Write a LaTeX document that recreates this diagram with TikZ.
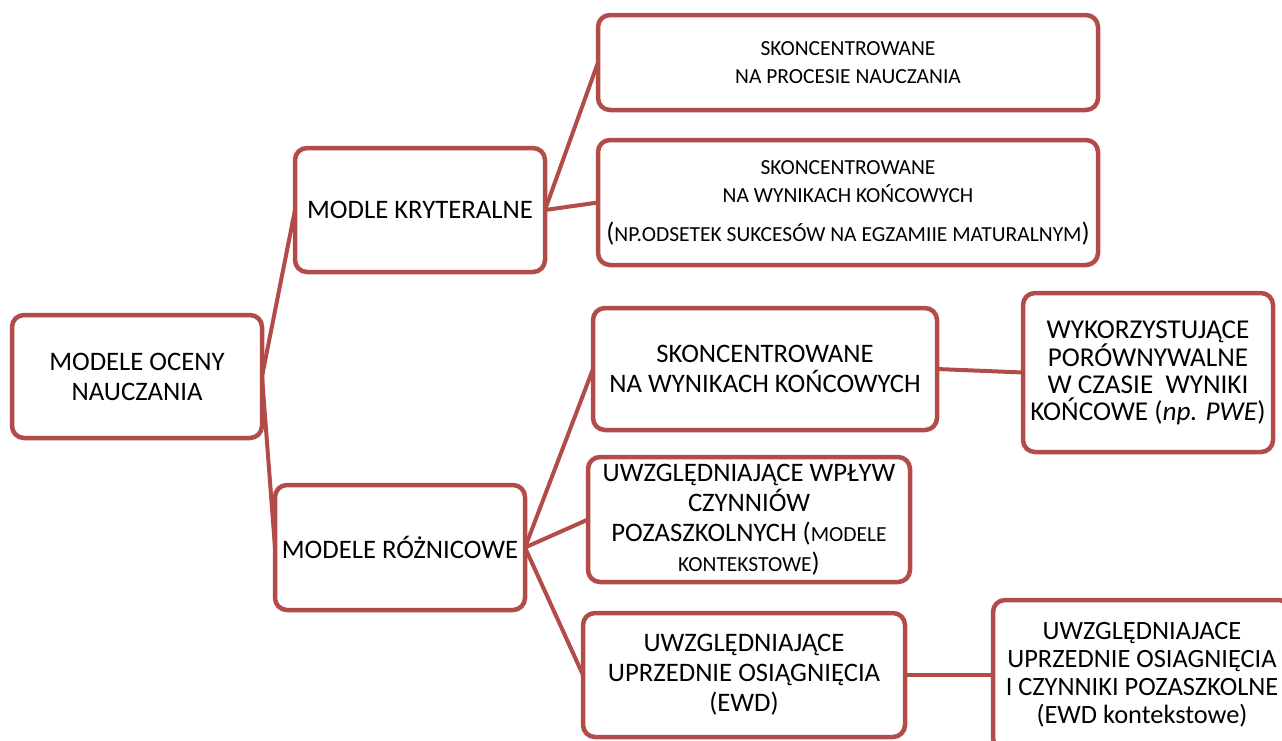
\documentclass[tikz,border=0pt]{standalone}
\usepackage{fontspec}
\setmainfont{Carlito}
\definecolor{ramka}{RGB}{178,76,73}
\newcommand{\drobne}{\fontsize{21.5}{28}\selectfont}
\newcommand{\duze}{\fontsize{26.7}{30}\selectfont}
\tikzstyle{model}=[draw=ramka,line width=4.5pt,rounded corners=12pt,fill=white,align=center,inner sep=0pt,outer sep=0pt,font=\duze]
\tikzstyle{link}=[draw=ramka,line width=4pt]

\begin{document}
\begin{tikzpicture}[x=1pt,y=-1pt]
\useasboundingbox (0,0) rectangle (1282,740);
\clip (0,0) rectangle (1282,740);
\node[model,minimum width=250pt,minimum height=123pt] at (137,376.5) (root) {MODELE OCENY\\NAUCZANIA};
\node[model,minimum width=250pt,minimum height=124pt] at (420,210) (kryt) {MODLE KRYTERALNE};
\node[model,minimum width=250pt,minimum height=125pt] at (400,547.5) (rozn) {MODELE RÓŻNICOWE};
\node[model,minimum width=500pt,minimum height=95pt,font=\drobne] at (848,62.5) (proces) {SKONCENTROWANE\\NA PROCESIE NAUCZANIA};
\node[model,minimum width=500pt,minimum height=125pt,font=\drobne] at (848,202.5) (wyniki) {SKONCENTROWANE\\NA WYNIKACH KOŃCOWYCH\\[11pt]{\duze(}NP.ODSETEK SUKCESÓW NA EGZAMIIE MATURALNYM{\duze)}};
\node[model,minimum width=344pt,minimum height=122pt] at (765,369) (konc) {SKONCENTROWANE\\NA WYNIKACH KOŃCOWYCH};
\node[model,minimum width=322pt,minimum height=125pt] at (749,519.5) (wplyw) {UWZGLĘDNIAJĄCE WPŁYW\\CZYNNIÓW\\POZASZKOLNYCH ({\drobne MODELE}\\{\drobne KONTEKSTOWE})};
\node[model,minimum width=322pt,minimum height=124pt] at (744,675) (uprz) {UWZGLĘDNIAJĄCE\\UPRZEDNIE OSIĄGNIĘCIA\\(EWD)};
\node[model,minimum width=250pt,minimum height=159pt,font=\fontsize{27.2}{27}\selectfont] at (1148,372.5) (pwe) {WYKORZYSTUJĄCE\\PORÓWNYWALNE\\W CZASIE\ \ WYNIKI\\KOŃCOWE (\textit{np. PWE})};
\node[model,minimum width=298pt,minimum height=150pt,font=\fontsize{26.4}{28}\selectfont] at (1142,675) (ewd) {UWZGLĘDNIAJACE\\UPRZEDNIE OSIAGNIĘCIA\\I CZYNNIKI POZASZKOLNE\\(EWD kontekstowe)};
\draw[link] (root.east) -- (kryt.west);
\draw[link] (root.east) -- (rozn.west);
\draw[link] (kryt.east) -- (proces.west);
\draw[link] (kryt.east) -- (wyniki.west);
\draw[link] (rozn.east) -- (konc.west);
\draw[link] (rozn.east) -- (wplyw.west);
\draw[link] (rozn.east) -- (uprz.west);
\draw[link] (konc.east) -- (pwe.west);
\draw[link] (uprz.east) -- (ewd.west);
\end{tikzpicture}
\end{document}
